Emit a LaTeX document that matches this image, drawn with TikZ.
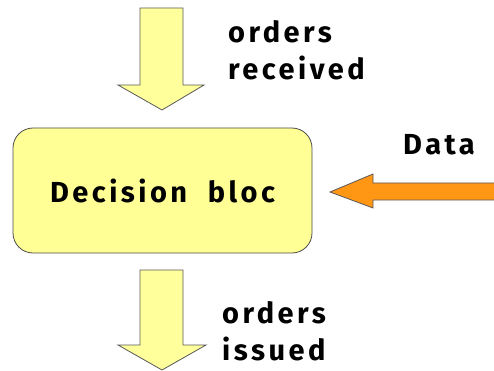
\documentclass[tikz,border=0pt]{standalone}
\usepackage{fontspec}
\setmainfont{Fira Sans}
\newfontfamily\handfont{Fira Sans}[LetterSpace=12]
\tikzset{
  blockarrow/.style={draw=black!65, line width=0.8pt, line join=miter},
  yellowfill/.style={fill=arrowyellow},
  label/.style={font=\handfont\bfseries\fontsize{29}{37}\selectfont, align=left, anchor=base west, inner sep=0pt},
}
\definecolor{arrowyellow}{RGB}{255,255,155}
\definecolor{boxyellow}{RGB}{255,255,150}
\definecolor{dataorange}{RGB}{255,150,20}
\begin{document}
\begin{tikzpicture}[x=1pt,y=-1pt]
\useasboundingbox (0,0) rectangle (494,371);
% incoming orders
\draw[blockarrow, yellowfill] (140,8) -- (183,8) -- (183,85) -- (204,85) -- (162,110) -- (118,85) -- (140,85) -- cycle;
% decision block
\node[draw=black!70, line width=0.8pt, fill=boxyellow, rounded corners=20pt,
      minimum width=299pt, minimum height=125pt, inner sep=0pt,
      font=\handfont\bfseries\fontsize{29}{35}\selectfont] (bloc) at (162.5,190.5) {Decision\ \ bloc};
% data input
\draw[blockarrow, fill=dataorange] (500,183) -- (373,183) -- (373,174) -- (330,192) -- (373,208) -- (373,200) -- (500,200) -- cycle;
% outgoing orders
\draw[blockarrow, yellowfill] (140,270) -- (183,270) -- (183,345) -- (206,345) -- (162,370) -- (118,345) -- (140,345) -- cycle;
% labels (base anchor sits on the last line)
\node[label] (recv) at (228,80) {orders\\received};
\node[label] (data) at (403,155) {Data};
\node[label] (issued) at (222,360) {orders\\issued};
\end{tikzpicture}
\end{document}
